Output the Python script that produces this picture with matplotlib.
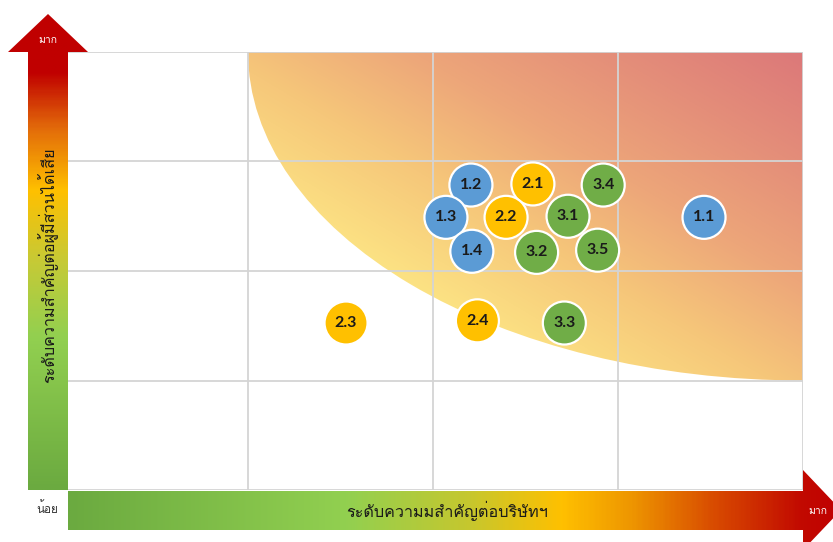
import numpy as np
import matplotlib
matplotlib.use("Agg")
import matplotlib.pyplot as plt
from matplotlib import font_manager as fm
from matplotlib.colors import LinearSegmentedColormap
from matplotlib.patches import Ellipse, Polygon
from matplotlib.ft2font import FT2Font

# ---------------- data ----------------
codes = ["1.1", "1.2", "1.3", "1.4", "2.1", "2.2", "2.3", "2.4",
         "3.1", "3.2", "3.3", "3.4", "3.5"]
company_importance = [3.465, 2.205, 2.07, 2.21, 2.54, 2.395, 1.53, 2.24,
                      2.73, 2.56, 2.71, 2.92, 2.89]
stakeholder_importance = [2.49, 2.785, 2.49, 2.18, 2.795, 2.49, 1.525, 1.545,
                          2.50, 2.17, 1.525, 2.785, 2.19]
group_colors = {"1": "#5B9BD5", "2": "#FFC000", "3": "#70AD47"}
x_label = "ระดับความมสำคัญต่อบริษัทฯ"
y_label = "ระดับความสำคัญต่อผู้มีส่วนได้เสีย"
high_label = "มาก"
low_label = "น้อย"

# ---------------- fonts ----------------
thai_fonts = []
for f in fm.fontManager.ttflist:
    try:
        ft = FT2Font(f.fname)
        if 0x0E01 in ft.get_charmap():
            if f.name not in thai_fonts:
                thai_fonts.append(f.name)
    except Exception:
        pass
preferred = [n for n in ["Loma", "Tahoma", "Leelawadee UI", "Garuda",
                         "Sarabun", "Anuphan"] if n in thai_fonts]
families = (preferred[:1] or thai_fonts[:1]) + ["DejaVu Sans"]
plt.rcParams["font.family"] = families

W, H = 833, 542
fig = plt.figure(figsize=(W / 100, H / 100), dpi=100)

def px_rect(x0, y0, x1, y1):
    return [x0 / W, 1 - y1 / H, (x1 - x0) / W, (y1 - y0) / H]

# ---------------- main matrix ----------------
ax = fig.add_axes(px_rect(63, 52, 803, 490))
ax.set_zorder(1)
ax.set_xlim(0, 4)
ax.set_ylim(0, 4)
for s in ax.spines.values():
    s.set_visible(False)
ax.set_xticks([])
ax.set_yticks([])

# gradient zone (quarter circle around top-right corner)
gx, gy = np.meshgrid(np.linspace(0, 4, 400), np.linspace(0, 4, 400))
t = np.clip((gx + gy - 3.76) / (8 - 3.76), 0, 1)
zone_cmap = LinearSegmentedColormap.from_list(
    "zone", [(0.0, "#FCE283"), (0.25, "#F6C77A"), (0.5, "#EDA679"),
             (0.75, "#E48E79"), (1.0, "#DC7879")])
im = ax.imshow(t, extent=(0, 4, 0, 4), origin="lower", cmap=zone_cmap,
               aspect="auto", zorder=0, interpolation="bilinear")
clip = Ellipse((4, 4), 6, 6, transform=ax.transData, facecolor="none",
               edgecolor="none")
ax.add_patch(clip)
im.set_clip_path(clip)

for v in range(5):
    ax.axvline(v, color="#D4D4D4", lw=1.3, zorder=1)
    ax.axhline(v, color="#D4D4D4", lw=1.3, zorder=1)

cols = [group_colors[c[0]] for c in codes]
ax.scatter(company_importance, stakeholder_importance, s=960, c=cols,
           edgecolors="white", linewidths=1.6, zorder=3, clip_on=False)
for c, x, y in zip(codes, company_importance, stakeholder_importance):
    ax.text(x, y, c, ha="center", va="center", fontsize=11.5,
            fontweight="bold", color="#1A1A1A", zorder=4,
            family=["Lato", "Liberation Sans", "DejaVu Sans"])

# ---------------- arrows ----------------
ov = fig.add_axes([0, 0, 1, 1])
ov.set_zorder(2)
ov.axis("off")
ov.patch.set_alpha(0)

v_cmap = LinearSegmentedColormap.from_list(
    "v", [(0.0, "#C00000"), (0.12, "#C00000"), (0.24, "#E36C0A"),
          (0.37, "#FFC000"), (0.52, "#C6CA36"), (0.68, "#92D050"),
          (1.0, "#6BAA40")])
vg = np.linspace(0, 1, 300).reshape(-1, 1)
vim = ov.imshow(vg, extent=(8, 88, 490, 14), cmap=v_cmap, aspect="auto",
                origin="upper", zorder=1)
vpoly = Polygon([(28, 490), (68, 490), (68, 52), (88, 52), (48, 14),
                 (8, 52), (28, 52)], closed=True, facecolor="none",
                edgecolor="none", transform=ov.transData)
ov.add_patch(vpoly)
vim.set_clip_path(vpoly)

h_cmap = LinearSegmentedColormap.from_list(
    "h", [(0.0, "#6BAA40"), (0.36, "#92D050"), (0.52, "#C6C72E"),
          (0.64, "#FFC000"), (0.73, "#EE9600"), (0.84, "#D84A00"),
          (0.95, "#C20A00"), (1.0, "#C00000")])
hg = np.linspace(0, 1, 400).reshape(1, -1)
him = ov.imshow(hg, extent=(68, 841, 550, 470), cmap=h_cmap, aspect="auto",
                origin="upper", zorder=1)
hpoly = Polygon([(68, 491), (803, 491), (803, 470), (841, 510), (803, 550),
                 (803, 530), (68, 530)], closed=True, facecolor="none",
                edgecolor="none", transform=ov.transData)
ov.add_patch(hpoly)
him.set_clip_path(hpoly)
ov.set_xlim(0, W)
ov.set_ylim(H, 0)

ov.text(48, 40, high_label, color="white", fontsize=7.5, ha="center",
        va="center", zorder=3)
ov.text(818, 511, high_label, color="white", fontsize=7.5, ha="center",
        va="center", zorder=3)
ov.text(47, 508, low_label, color="#333333", fontsize=8.5, ha="center",
        va="center", zorder=3)
ov.text(447, 511, x_label, color="#1A1A1A", fontsize=11.7, ha="center",
        va="center", zorder=3)
ov.text(48, 265, y_label, color="#1A1A1A", fontsize=11.7, ha="center",
        va="center", rotation=90, zorder=3)

fig.savefig("out.png", dpi=100, facecolor="white")
